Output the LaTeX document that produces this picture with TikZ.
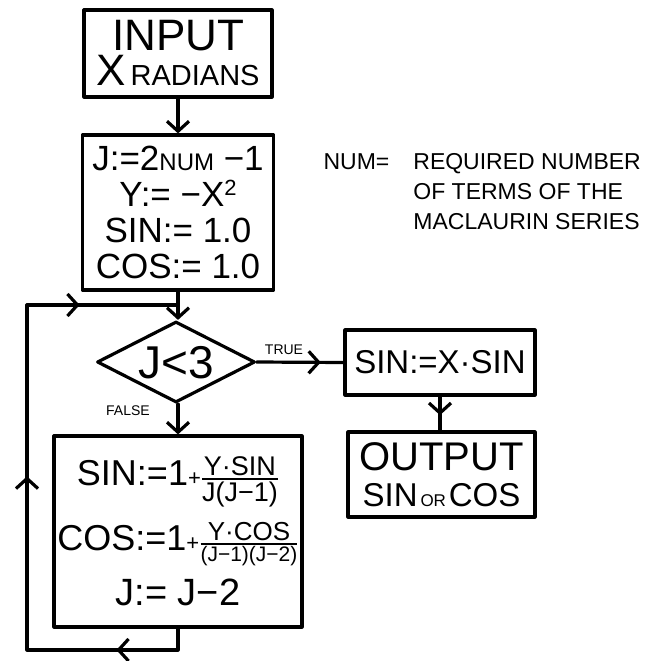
\documentclass[tikz,border=0pt]{standalone}
\usepackage{amsmath}
\usepackage{fontspec}
\setmainfont{Liberation Sans}
\usetikzlibrary{arrows.meta,decorations.markings,shapes.geometric}
\newcommand{\fsz}[1]{\fontsize{#1}{#1}\selectfont}
\newcommand{\fszb}[2]{\fontsize{#1}{#2}\selectfont}
\tikzset{
  box/.style={draw, rectangle, inner sep=0pt, align=center},
  barb/.tip={Straight Barb[length=10pt,width=22pt]},
  endarrow/.style={-barb},
  midarrow/.style={postaction={decorate, decoration={markings, mark=at position #1 with {\arrow{barb}}}}},
  lbl/.style={font=\fsz{14}, inner sep=0pt},
}
\begin{document}
\begin{tikzpicture}[x=1pt,y=-1pt,line width=3.2pt,line join=round,line cap=round]
\useasboundingbox[fill=white] (0,0) rectangle (656,661);

\node[box, minimum width=188pt, minimum height=87pt, font=\fszb{44}{35}] (input) at (178,53.5)
  {INPUT\\{\fsz{44}X}{\fsz{29}\,RADIANS}};

\node[box, minimum width=191pt, minimum height=155pt, font=\fszb{35}{36}] (init) at (178,212.5)
  {J:=2{\fsz{24}NUM} −1\\
   Y:= −X\raisebox{11pt}{\fsz{22}2}\\
   SIN:= 1.0\\
   COS:= 1.0};

\node[draw, diamond, minimum width=158pt, minimum height=81pt, inner sep=0pt] (dia) at (176,362)
  {\fsz{46}\smash{\makebox[0pt]{\raisebox{-16pt}{J<3}}}};

\node[box, minimum width=190pt, minimum height=65pt] (sinx) at (440,362.5)
  {\fsz{33}SIN:=X·SIN};

\node[box, minimum width=187pt, minimum height=85pt, font=\fszb{40}{36}] (out) at (441.5,474.5)
  {OUTPUT\\{\fsz{33}SIN}{\fsz{17}\,OR\,}{\fsz{33}COS}};

\node[box, minimum width=248pt, minimum height=191pt, font=\fszb{36}{40}] (loop) at (178,531.5)
  {SIN:=1{\fsz{22}+}$\genfrac{}{}{1.8pt}{}{\mbox{\fsz{27}Y·SIN}}{\mbox{\fsz{27}J(J−1)}}$\\[14pt]
   COS:=1{\fsz{22}+}$\genfrac{}{}{1.8pt}{}{\mbox{\fsz{26}Y·COS}}{\mbox{\fsz{21}(J−1)(J−2)}}$\\[12pt]
   {\fsz{38}J:= J−2}};

\node[inner sep=0pt, anchor=base west, font=\fszb{23}{30}] (note) at (322,169)
  {\begin{tabular}[t]{@{}l@{\hspace{24pt}}l@{}}
   NUM= & REQUIRED NUMBER\\
        & OF TERMS OF THE\\
        & MACLAURIN SERIES
   \end{tabular}};

\node[lbl] (truelbl) at (284,350) {TRUE};
\node[lbl] (falselbl) at (128,411) {FALSE};

\coordinate (c1) at (178,650);
\coordinate (c2) at (27,650);
\coordinate (c3) at (27,305);
\coordinate (junction) at (178,305);

\draw[endarrow] (input.south) -- (init.north);
\draw[endarrow] (init.south) -- (init.south |- dia.north);
\draw[midarrow=0.74] (dia.east) -- (sinx.west);
\draw[endarrow] (init.south |- dia.south) -- (loop.north);
\draw[midarrow=0.55] (sinx.south) -- (sinx.south |- out.north);
\draw[postaction={decorate, decoration={markings,
      mark=at position 83pt with {\arrow{barb}},
      mark=at position 346pt with {\arrow{barb}},
      mark=at position 570pt with {\arrow{barb}}}}]
  (loop.south) -- (c1) -- (c2) -- (c3) -- (junction);
\end{tikzpicture}
\end{document}
